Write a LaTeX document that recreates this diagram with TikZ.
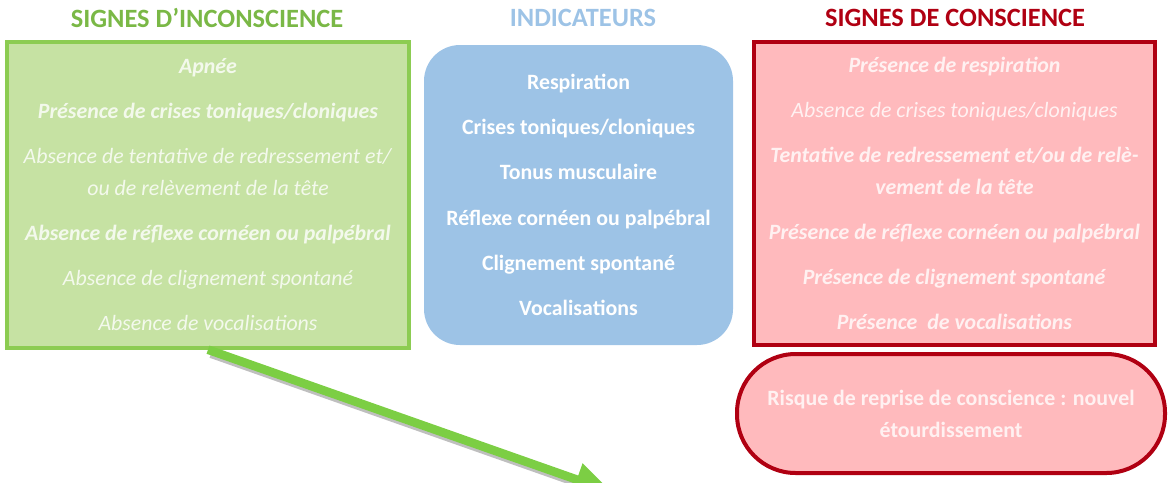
\documentclass[tikz,border=0pt]{standalone}
\usepackage{fontspec}
\setmainfont{Carlito}
\usetikzlibrary{arrows.meta}
\definecolor{greenfill}{RGB}{198,226,163}
\definecolor{greenline}{RGB}{140,204,82}
\definecolor{greentitle}{RGB}{122,184,70}
\definecolor{bluefill}{RGB}{157,195,230}
\definecolor{redfill}{RGB}{255,186,189}
\definecolor{redline}{RGB}{176,0,18}
\definecolor{arrowgreen}{RGB}{124,206,68}
\newcommand{\bitext}[1]{\textbf{\textit{#1}}}

\begin{document}
\begin{tikzpicture}[x=0.75pt, y=-0.75pt, >=Latex,
    title/.style={font=\fontsize{19.8}{22}\selectfont\bfseries},
    signbox/.style={line width=2.5pt, align=center, inner sep=0pt,
      font=\fontsize{16.4}{24}\selectfont},
    paletext/.style={text=white, text opacity=0.8}]
  \useasboundingbox (0,0) rectangle (1169,482);

  % titles
  \node[title, text=greentitle] (tgreen) at (207, 18) {SIGNES D’INCONSCIENCE};
  \node[title, text=bluefill] (tblue) at (583, 18) {INDICATEURS};
  \node[title, text=redline] (tred) at (955, 18) {SIGNES DE CONSCIENCE};

  % unconsciousness
  \node[signbox, paletext, draw=greenline, fill=greenfill, minimum width=301.5pt, minimum height=229.5pt]
    (green) at (208, 195) {\bitext{Apnée}\\[9.75pt]
      \bitext{Présence de crises toniques/cloniques}\\[9.75pt]
      \textit{Absence de tentative de redressement et/}\\
      \textit{ou de relèvement de la tête}\\[9.75pt]
      \bitext{Absence de réflexe cornéen ou palpébral}\\[9.75pt]
      \textit{Absence de clignement spontané}\\[9.75pt]
      \textit{Absence de vocalisations}};

  % indicators
  \node[signbox, text=white, fill=bluefill, rounded corners=27pt, minimum width=231.75pt, minimum height=225pt, font=\fontsize{16.4}{34}\selectfont\bfseries]
    (blue) at (578.5, 195) {Respiration\\ Crises toniques/cloniques\\ Tonus musculaire\\
      Réflexe cornéen ou palpébral\\ Clignement spontané\\ Vocalisations};

  % consciousness
  \node[signbox, paletext, draw=redline, fill=redfill, minimum width=300.75pt, minimum height=227.25pt]
    (red) at (954.5, 193.5) {\bitext{Présence de respiration}\\[9.75pt]
      \textit{Absence de crises toniques/cloniques}\\[9.75pt]
      \bitext{Tentative de redressement et/ou de relè-}\\
      \bitext{vement de la tête}\\[9.75pt]
      \bitext{Présence de réflexe cornéen ou palpébral}\\[9.75pt]
      \bitext{Présence de clignement spontané}\\[9.75pt]
      \bitext{Présence~~de vocalisations}};

  \node[signbox, paletext, draw=redline, fill=redfill, line width=3pt, rounded corners=44pt,
    minimum width=321pt, minimum height=89.25pt, font=\fontsize{16.4}{24}\selectfont\bfseries]
    (risk) at (951, 413.5) {Risque de reprise de conscience : nouvel\\ étourdissement};

  % arrow
  \coordinate (tip) at (612, 492);
  \draw[black, opacity=0.25, line width=6.5pt, -{Triangle[length=28pt, width=24pt]}]
    ([shift={(3,4)}]green.south) -- ([shift={(3,4)}]tip);
  \draw[arrowgreen, line width=6.5pt, -{Triangle[length=28pt, width=24pt]}] (green.south) -- (tip);
\end{tikzpicture}
\end{document}
